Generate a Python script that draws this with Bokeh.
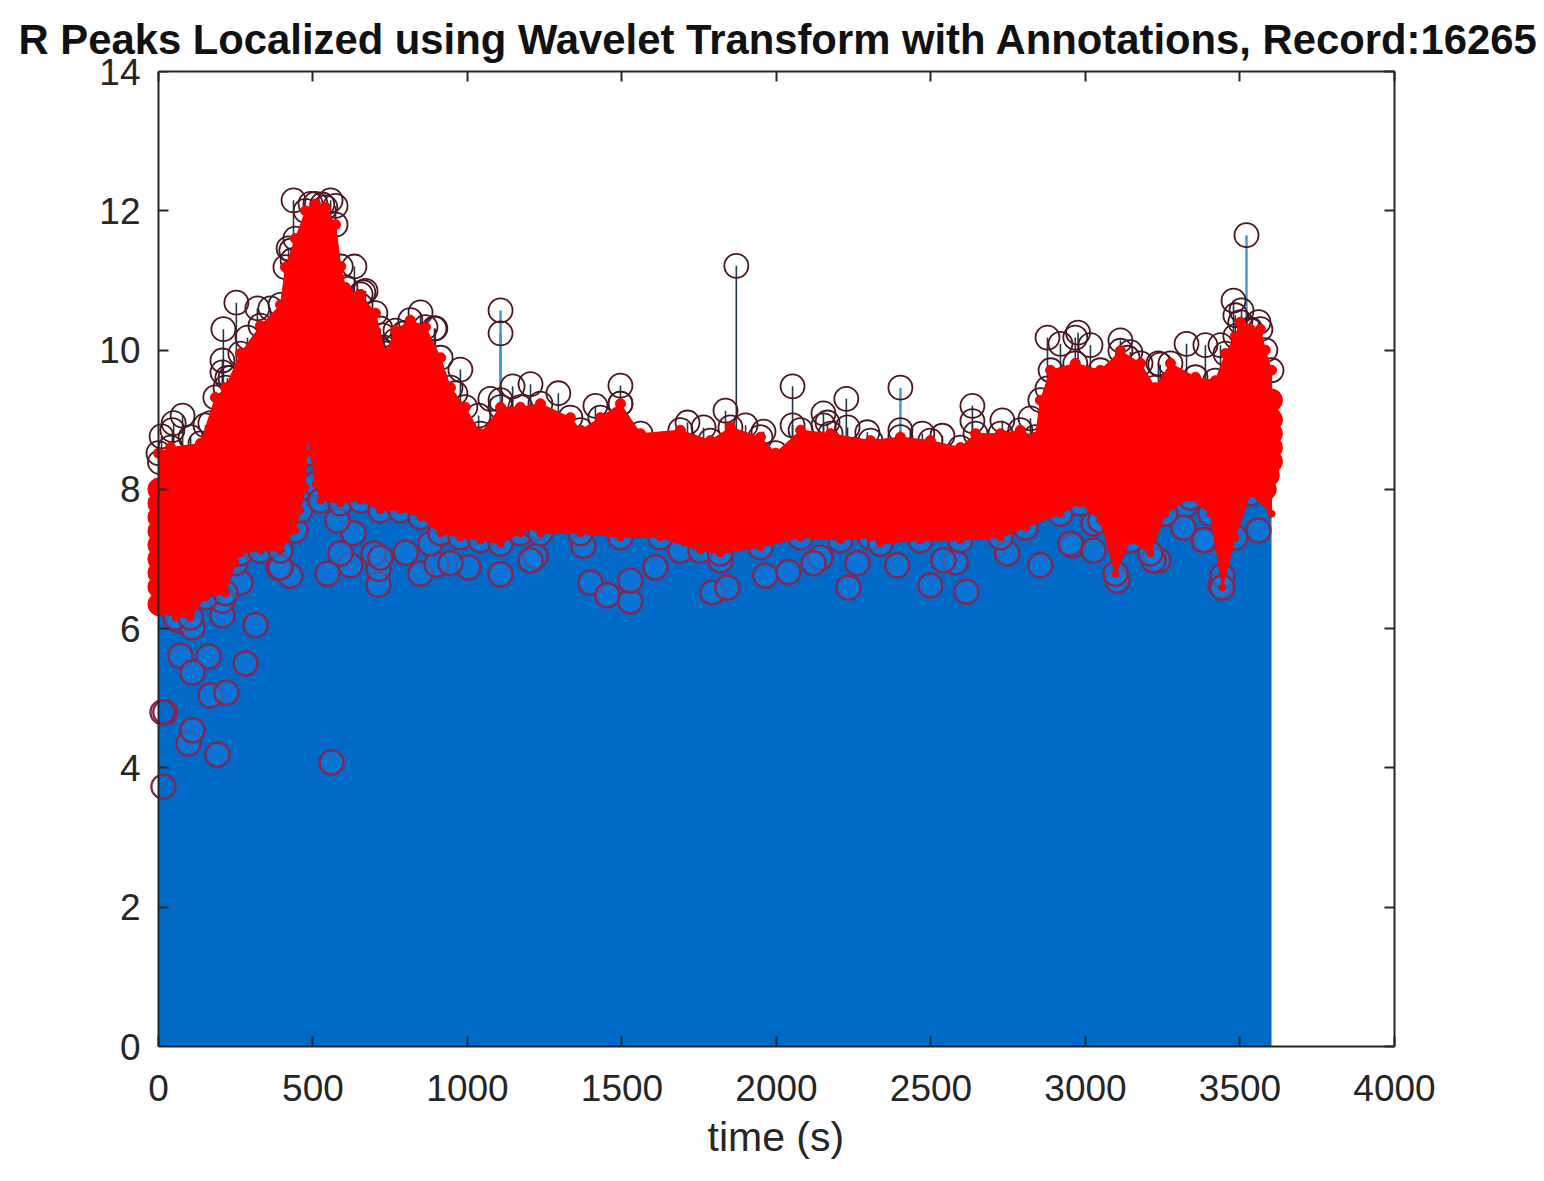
from bokeh.plotting import figure
from bokeh.models import LinearAxis, Range1d, FixedTicker, Title
from bokeh.embed import file_html
from bokeh.resources import INLINE

TITLE = "R Peaks Localized using Wavelet Transform with Annotations, Record:16265"
X_LABEL = "time (s)"
x_ticks = [0, 500, 1000, 1500, 2000, 2500, 3000, 3500, 4000]
y_ticks = [0, 2, 4, 6, 8, 10, 12, 14]

# upper edge of the dense band of R peaks (time s, amplitude)
upper_t = [0, 39, 136, 184, 217, 265, 330, 395, 411, 443, 476, 508, 540, 573, 590, 605, 654, 702, 735, 767, 815, 864, 913, 945, 993, 1042, 1107, 1171, 1236, 1333, 1366, 1430, 1495, 1560, 1689, 1786, 1851, 1948, 1997, 2078, 2175, 2304, 2401, 2498, 2595, 2644, 2725, 2789, 2838, 2854, 2887, 2967, 3048, 3113, 3178, 3226, 3275, 3356, 3420, 3453, 3485, 3501, 3533, 3566, 3582, 3602]
upper_v = [8.52, 8.60, 8.66, 9.32, 9.46, 9.95, 10.35, 10.65, 11.19, 11.60, 12.00, 12.10, 12.05, 11.80, 11.20, 10.90, 10.80, 10.53, 9.95, 10.28, 10.43, 10.33, 9.89, 9.46, 9.18, 8.80, 9.18, 9.18, 9.23, 9.03, 8.85, 9.03, 9.23, 8.80, 8.85, 8.70, 8.89, 8.75, 8.52, 8.85, 8.80, 8.70, 8.75, 8.70, 8.60, 8.80, 8.80, 8.85, 8.75, 9.28, 9.71, 9.81, 9.71, 9.99, 9.81, 9.46, 9.81, 9.61, 9.56, 9.95, 10.20, 10.40, 10.30, 10.30, 10.00, 9.71]

# lower edge of the dense band
lower_t = [0, 55, 104, 152, 217, 249, 265, 330, 395, 443, 459, 476, 482, 492, 508, 524, 589, 654, 718, 783, 848, 913, 977, 1042, 1107, 1171, 1220, 1236, 1366, 1495, 1624, 1754, 1818, 1948, 2078, 2207, 2304, 2336, 2466, 2595, 2725, 2806, 2919, 2983, 3048, 3097, 3145, 3210, 3259, 3340, 3404, 3443, 3485, 3533, 3602]
lower_v = [6.26, 6.16, 6.16, 6.45, 6.51, 6.94, 7.08, 7.12, 7.12, 7.41, 7.70, 8.03, 8.80, 8.52, 8.08, 7.84, 7.80, 7.84, 7.70, 7.70, 7.60, 7.37, 7.31, 7.27, 7.22, 7.37, 7.45, 7.37, 7.37, 7.31, 7.31, 7.12, 7.08, 7.17, 7.31, 7.27, 7.31, 7.22, 7.27, 7.27, 7.31, 7.45, 7.65, 7.80, 7.55, 6.79, 7.27, 7.08, 7.65, 7.88, 7.65, 6.59, 7.31, 7.94, 7.65]

# peaks standing above the band, stems seen as dark
top_t = [5, 10, 45, 78, 152, 207, 207, 210, 233, 252, 320, 362, 430, 437, 447, 492, 530, 557, 573, 634, 654, 670, 718, 725, 767, 800, 848, 893, 977, 1036, 1146, 1204, 1294, 1414, 1495, 1495, 1835, 1870, 1900, 2052, 2152, 2152, 2226, 2537, 2634, 2634, 2731, 2822, 2877, 2967, 2976, 3016, 3113, 3145, 3242, 3327, 3388, 3437, 3479, 3485, 3505, 3560,
         1074, 1712, 1764, 1958, 2052, 2165, 2230, 2294, 104, 49, 168, 223, 288, 421, 434, 663, 718, 728, 793, 896, 961, 1107, 2472, 2877, 2919, 3136, 3236, 3534]
top_v = [8.39, 8.76, 8.85, 9.06, 8.92, 9.68, 9.85, 10.30, 9.60, 10.68, 10.60, 10.60, 11.43, 12.15, 11.11, 12.10, 12.09, 12.15, 12.07, 11.20, 10.64, 10.85, 10.00, 10.21, 10.14, 10.25, 10.54, 10.31, 9.72, 9.06, 9.48, 9.51, 9.38, 9.20, 9.49, 9.23, 9.13, 11.21, 8.92, 9.48, 9.09, 8.92, 9.30, 8.77, 9.20, 8.98, 8.99, 9.02, 10.18, 10.18, 10.25, 10.07, 10.14, 9.97, 9.79, 10.09, 10.07, 10.07, 10.71, 10.50, 10.57, 10.40,
         9.30, 8.96, 8.89, 8.83, 8.92, 8.96, 8.89, 8.82, 8.75, 8.95, 8.95, 9.60, 10.18, 11.46, 11.29, 10.83, 10.31, 10.04, 10.24, 10.31, 9.38, 9.28, 8.80, 9.45, 10.09, 9.89, 9.81, 10.28]

# peaks standing above the band, stems seen as blue
blue_t = [1107, 1107, 2401, 2401, 3521]
blue_v = [10.57, 10.24, 9.46, 8.85, 11.65]

# peaks below the band, those next to the left axis listed apart
axis_low_t = [16, 13, 22]
axis_low_v = [3.73, 4.80, 4.80]
low_t = [97, 110, 191, 168, 220, 282, 71, 162, 110, 314, 65, 110, 207, 207, 560, 265, 427, 388, 547, 621, 712, 712, 848, 800, 900, 1003, 1107, 1220, 1398, 1453, 1527, 1527, 1608, 1793, 1841, 1964, 2039, 2233, 2142, 2391, 2498, 2615, 2580, 2854, 2958, 3103, 3236, 3437, 3443, 3560, 3323, 3388,
         589, 696, 945, 395, 631, 579, 718, 880, 1204, 1375, 1689, 1819, 2120, 2262, 2540, 2747, 2951, 3026, 3026, 3220, 3382, 3317]
low_v = [4.35, 4.54, 4.19, 5.04, 5.08, 5.50, 5.61, 5.60, 5.37, 6.05, 6.12, 6.02, 6.19, 6.40, 4.08, 6.66, 6.76, 6.88, 6.79, 6.91, 6.63, 6.86, 6.79, 7.09, 6.92, 6.88, 6.78, 7.04, 6.66, 6.48, 6.39, 6.69, 6.88, 6.52, 6.59, 6.76, 6.81, 6.59, 7.02, 6.91, 6.62, 6.53, 6.95, 6.91, 7.19, 6.69, 6.98, 6.62, 6.76, 7.41, 7.77, 7.27,
         7.08, 7.08, 6.94, 6.88, 7.37, 7.55, 7.02, 7.22, 6.98, 7.19, 7.12, 6.98, 6.94, 6.94, 6.98, 7.08, 7.22, 7.12, 7.51, 6.98, 7.27, 7.45]

# solid peaks running along the left and right ends of the band
edge_t = [3, 3, 3, 3, 3, 3, 3, 3, 3, 3600, 3600, 3600, 3600, 3600, 3590, 3580]
edge_v = [6.35, 6.60, 6.80, 7.00, 7.20, 7.40, 7.60, 7.80, 8.00, 9.28, 9.00, 8.80, 8.60, 8.40, 8.20, 8.00]

BLUE = "#006AC8"
DARK_STEM = "#24384a"
STEM_BLUE = "#3f97c9"
RING_TOP = "#4a1620"
RING_LOW = "#852650"
GLOW = "#0f7ce0"
RED = "#FF0000"
INK = "#262626"
FONT = "Liberation Sans"
TICK_SIZE = "37px"

p = figure(width=1538, height=1173, output_backend="svg", toolbar_location=None,
           x_range=Range1d(-48.5, 4000), y_range=Range1d(0, 14),
           min_border_left=143, min_border_right=144, min_border_top=71, min_border_bottom=127,
           outline_line_color=None, background_fill_color="white")
p.grid.visible = False

p.segment(x0=top_t, y0=[0] * len(top_t), x1=top_t, y1=top_v, line_color=DARK_STEM, line_width=1.6)
p.segment(x0=blue_t, y0=[0] * len(blue_t), x1=blue_t, y1=blue_v, line_color=STEM_BLUE, line_width=2.4)
p.varea(x=upper_t, y1=[0] * len(upper_t), y2=upper_v, fill_color=BLUE)
p.scatter(x=top_t + blue_t + upper_t, y=top_v + blue_v + upper_v, marker="circle", size=24, fill_color=None,
          line_color=RING_TOP, line_width=1.8)
p.scatter(x=low_t + lower_t[1:-1], y=low_v + lower_v[1:-1], marker="circle", size=24, fill_color=GLOW, fill_alpha=0.6,
          line_color=RING_LOW, line_width=2.4)
p.scatter(x=axis_low_t, y=axis_low_v, marker="circle", size=24, fill_color=None,
          line_color=RING_LOW, line_width=2.4)
p.scatter(x=edge_t, y=edge_v, marker="circle", size=23, fill_color=RED, line_color=RED)
band_t = upper_t + lower_t[::-1]
band_v = upper_v + lower_v[::-1]
p.patch(x=band_t, y=band_v, fill_color=RED, line_color=RED, line_width=1)
p.scatter(x=upper_t, y=upper_v, marker="circle", size=10, fill_color=RED, line_color=RED)
p.scatter(x=lower_t, y=lower_v, marker="circle", size=7, fill_color=RED, line_color=RED)

for ax in p.xaxis + p.yaxis:
    ax.axis_line_color = INK
    ax.axis_line_width = 2
    ax.major_tick_line_color = INK
    ax.major_tick_line_width = 2
    ax.major_tick_in = 10
    ax.major_tick_out = 0
    ax.minor_tick_line_color = None
    ax.major_label_text_color = INK
    ax.major_label_text_font = FONT
    ax.major_label_text_font_size = TICK_SIZE

p.xaxis.ticker = FixedTicker(ticks=x_ticks)
p.xaxis.bounds = (0, 4000)
p.xaxis.major_label_standoff = 28

p.yaxis.ticker = FixedTicker(ticks=y_ticks)
p.yaxis.fixed_location = 0
p.yaxis.major_label_text_color = None
p.yaxis.major_label_text_font_size = "1px"
p.yaxis.major_label_standoff = 0

label_axis = LinearAxis(ticker=FixedTicker(ticks=y_ticks), axis_line_color=None, major_tick_line_color=None,
                        minor_tick_line_color=None, major_tick_in=0, major_tick_out=0,
                        major_label_text_color=INK, major_label_text_font=FONT,
                        major_label_text_font_size=TICK_SIZE, major_label_standoff=3)
p.left = [label_axis] + list(p.left)

top_axis = LinearAxis(ticker=FixedTicker(ticks=x_ticks), bounds=(0, 4000), axis_line_color=INK, axis_line_width=2,
                      major_tick_line_color=INK, major_tick_line_width=2, major_tick_in=10, major_tick_out=0,
                      minor_tick_line_color=None, major_label_text_color=None, major_label_text_font_size="1px",
                      major_label_standoff=0)
right_axis = LinearAxis(ticker=FixedTicker(ticks=y_ticks), axis_line_color=INK, axis_line_width=2,
                        major_tick_line_color=INK, major_tick_line_width=2, major_tick_in=10, major_tick_out=0,
                        minor_tick_line_color=None, major_label_text_color=None, major_label_text_font_size="1px",
                        major_label_standoff=0)
p.add_layout(top_axis, "above")
p.add_layout(right_axis, "right")

p.add_layout(Title(text=X_LABEL, align="left", offset=564, standoff=17, text_font=FONT, text_font_size="41px",
                   text_font_style="normal", text_color=INK), "below")

p.title.text = TITLE
p.title.text_font = FONT
p.title.text_font_style = "bold"
p.title.text_font_size = "41.8px"
p.title.text_color = "#111111"
p.title.align = "left"
p.title.offset = -125
p.title.standoff = 18

open("out.html", "w").write(file_html(p, INLINE))
